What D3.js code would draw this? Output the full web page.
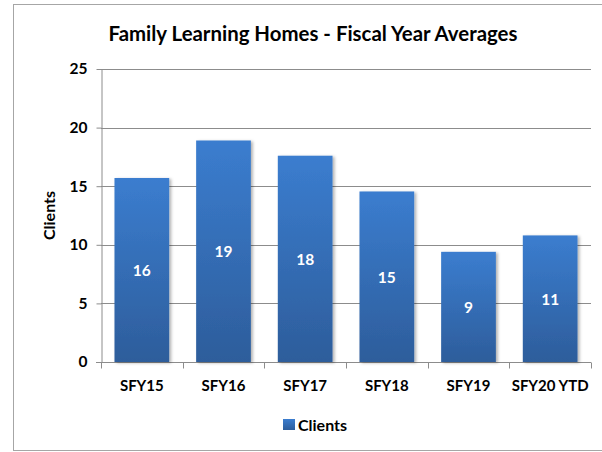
<!DOCTYPE html>
<html>
<head>
<meta charset="utf-8">
<script src="https://cdn.jsdelivr.net/npm/d3@7"></script>
<style>
  body { margin: 0; background: #fff; }
  text { font-family: Lato, "Open Sans", sans-serif; font-weight: bold; }
</style>
</head>
<body>
<div id="chart"></div>
<script>
// chart data
const categories = ['SFY15', 'SFY16', 'SFY17', 'SFY18', 'SFY19', 'SFY20 YTD'];
const clients = [15.7, 18.9, 17.6, 14.55, 9.4, 10.8];
const yTicks = [0, 5, 10, 15, 20, 25];

const width = 602;
const height = 452;
const marginTop = 69;
const marginLeft = 101;
const plotRight = 591;
const plotBottom = 362;

const svg = d3.select('#chart').append('svg')
    .attr('width', width)
    .attr('height', height);

// gradient for the bars
const defs = svg.append('defs');
const grad = defs.append('linearGradient')
    .attr('id', 'barGrad')
    .attr('x1', 0).attr('y1', 0).attr('x2', 0).attr('y2', 1);
grad.append('stop').attr('offset', '0%').attr('stop-color', '#3b7dcf');
grad.append('stop').attr('offset', '100%').attr('stop-color', '#2d5d9b');

const shadow = defs.append('filter').attr('id', 'shadow')
    .attr('x', '-10%').attr('y', '-10%').attr('width', '130%').attr('height', '120%');
shadow.append('feDropShadow')
    .attr('dx', 2).attr('dy', 1).attr('stdDeviation', 1.5)
    .attr('flood-color', '#000').attr('flood-opacity', 0.3);

// outer border
svg.append('rect')
    .attr('x', 13.5).attr('y', 4.5)
    .attr('width', 600).attr('height', 446)
    .attr('fill', 'none')
    .attr('stroke', '#a6a6a6');

// title
svg.append('text')
    .attr('x', 313)
    .attr('y', 41)
    .attr('text-anchor', 'middle')
    .attr('font-size', 20.4)
    .attr('fill', '#000')
    .text('Family Learning Homes - Fiscal Year Averages');

const x = d3.scaleBand()
    .domain(categories)
    .range([marginLeft, plotRight])
    .paddingInner(0.33)
    .paddingOuter(0.165);

const xOuter = d3.scaleBand()
    .domain(categories)
    .range([marginLeft, plotRight]);

const y = d3.scaleLinear()
    .domain([0, 25])
    .range([plotBottom, marginTop]);

// grid lines
svg.append('g')
    .selectAll('line')
    .data(yTicks.filter(d => d > 0))
    .enter()
    .append('line')
    .attr('x1', marginLeft)
    .attr('x2', plotRight)
    .attr('y1', d => Math.round(y(d)) + 0.5)
    .attr('y2', d => Math.round(y(d)) + 0.5)
    .attr('stroke', '#8c8c8c');

// y axis
const yAxis = svg.append('g')
    .attr('transform', `translate(${marginLeft + 0.5},0)`)
    .call(d3.axisLeft(y).tickValues(yTicks).tickSize(5).tickPadding(9).tickSizeOuter(0));
yAxis.select('.domain').attr('stroke', '#8c8c8c');
yAxis.selectAll('.tick line').attr('stroke', '#8c8c8c');
yAxis.selectAll('.tick text')
    .attr('font-size', 15.5)
    .attr('fill', '#000')
    .attr('font-family', 'Lato, sans-serif')
    .attr('font-weight', 'bold');

// x axis with ticks between categories
const xAxis = svg.append('g')
    .attr('transform', `translate(0,${plotBottom + 0.5})`);
xAxis.append('line')
    .attr('x1', marginLeft - 5).attr('x2', plotRight)
    .attr('stroke', '#8c8c8c');
xAxis.selectAll('.tk')
    .data(categories)
    .enter()
    .append('line')
    .attr('class', 'tk')
    .attr('x1', d => Math.round(xOuter(d) + xOuter.bandwidth()) + 0.5)
    .attr('x2', d => Math.round(xOuter(d) + xOuter.bandwidth()) + 0.5)
    .attr('y1', 0).attr('y2', 6)
    .attr('stroke', '#8c8c8c');
xAxis.append('line')
    .attr('x1', marginLeft + 0.5).attr('x2', marginLeft + 0.5)
    .attr('y1', 0).attr('y2', 6)
    .attr('stroke', '#8c8c8c');
xAxis.selectAll('.lbl')
    .data(categories)
    .enter()
    .append('text')
    .attr('class', 'lbl')
    .attr('x', d => xOuter(d) + xOuter.bandwidth() / 2)
    .attr('y', 28.5)
    .attr('text-anchor', 'middle')
    .attr('font-size', 15)
    .attr('fill', '#000')
    .text(d => d);

// y title
svg.append('text')
    .attr('transform', `translate(55,${(marginTop + plotBottom) / 2}) rotate(-90)`)
    .attr('text-anchor', 'middle')
    .attr('font-size', 16)
    .attr('fill', '#000')
    .text('Clients');

// bars
svg.append('g')
    .selectAll('rect')
    .data(clients)
    .enter()
    .append('rect')
    .attr('x', (d, i) => x(categories[i]))
    .attr('y', d => y(d))
    .attr('width', x.bandwidth())
    .attr('height', d => plotBottom - y(d))
    .attr('fill', 'url(#barGrad)')
    .attr('filter', 'url(#shadow)');

// value labels
svg.append('g')
    .selectAll('text')
    .data(clients)
    .enter()
    .append('text')
    .attr('x', (d, i) => x(categories[i]) + x.bandwidth() / 2)
    .attr('y', d => (y(d) + plotBottom) / 2 + 6)
    .attr('text-anchor', 'middle')
    .attr('font-size', 15.5)
    .attr('fill', '#fff')
    .text(d => Math.round(d));

// legend
const legend = svg.append('g');
legend.append('rect')
    .attr('x', 283).attr('y', 419)
    .attr('width', 12).attr('height', 11)
    .attr('fill', 'url(#barGrad)');
legend.append('text')
    .attr('x', 298)
    .attr('y', 431)
    .attr('font-size', 16)
    .attr('fill', '#000')
    .text('Clients');
</script>
</body>
</html>
